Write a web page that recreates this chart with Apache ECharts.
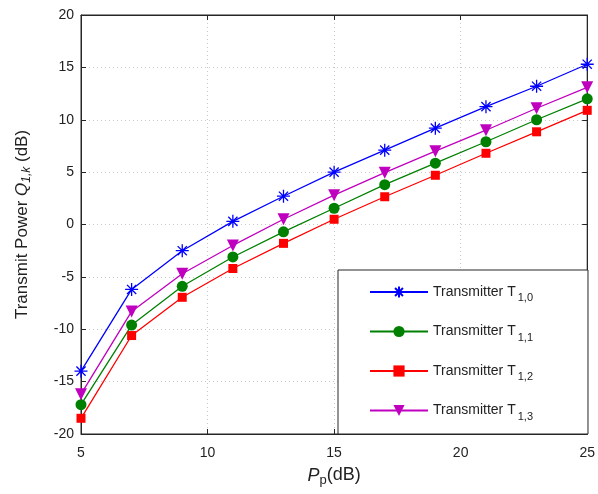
<!DOCTYPE html>
<html>
<head>
<meta charset="utf-8">
<script src="https://cdn.jsdelivr.net/npm/echarts@6/dist/echarts.min.js"></script>
<style>
  html, body { margin: 0; padding: 0; background: #fff; }
  #chart { width: 598px; height: 494px; }
</style>
</head>
<body>
<div id="chart"></div>
<script>
// Primary transmit power P_p (dB)
const pp = [5, 7, 9, 11, 13, 15, 17, 19, 21, 23, 25];

// Transmit power Q_{1,k} (dB) for each transmitter
const t10 = [-14.0, -6.2, -2.5, 0.3, 2.7, 5.0, 7.1, 9.2, 11.25, 13.2, 15.3];
const t11 = [-17.2, -9.6, -5.9, -3.1, -0.7, 1.55, 3.8, 5.85, 7.9, 10.0, 12.0];
const t12 = [-18.5, -10.6, -6.95, -4.2, -1.8, 0.5, 2.65, 4.7, 6.8, 8.85, 10.9];
const t13 = [-16.2, -8.3, -4.7, -2.0, 0.5, 2.8, 4.95, 7.0, 9.0, 11.1, 13.1];

const subs = ['1,0', '1,1', '1,2', '1,3'];
const names = subs.map(s => 'Transmitter T' + s);

const font = 'Liberation Sans, Arial, sans-serif';
const asterisk = 'path://M0,-10L0,10M-10,0L10,0M-7.07,-7.07L7.07,7.07M-7.07,7.07L7.07,-7.07';

function pairs(ys) { return pp.map((x, i) => [x, ys[i]]); }

function series(name, ys, color, symbol, size, extra) {
  return Object.assign({
    name: name,
    type: 'line',
    data: pairs(ys),
    symbol: symbol,
    symbolSize: size,
    lineStyle: { color: color, width: 1.3 },
    itemStyle: { color: color, borderColor: color, borderWidth: 0 },
    emphasis: { disabled: true },
    z: 3
  }, extra || {});
}

const gridLine = { show: true, lineStyle: { color: '#c8c8c8', type: [1, 3], width: 1 } };
const frameLine = { show: true, onZero: false, lineStyle: { color: '#262626' } };
const tick = { show: true, inside: true, length: 5, lineStyle: { color: '#262626' } };

const chart = echarts.init(document.getElementById('chart'), null, { renderer: 'canvas' });
chart.setOption({
  animation: false,
  backgroundColor: '#fff',
  grid: { left: 81, right: 9, top: 15, bottom: 60, show: true, borderColor: '#262626', borderWidth: 1, backgroundColor: '#fff' },
  xAxis: [{
    type: 'value', min: 5, max: 25, interval: 5,
    axisLine: frameLine,
    axisTick: tick,
    axisLabel: { color: '#222', fontSize: 14, fontFamily: font, margin: 12 },
    splitLine: gridLine,
    name: '{i|P}{s|p}(dB)',
    nameLocation: 'middle',
    nameGap: 30,
    nameTextStyle: {
      fontFamily: font, color: '#222', fontSize: 18,
      rich: {
        i: { fontStyle: 'italic', fontSize: 18, fontFamily: font, color: '#222' },
        s: { fontSize: 13, fontFamily: font, color: '#222', padding: [10, 0, 0, 0] }
      }
    }
  }, {
    type: 'value', position: 'top', min: 5, max: 25, interval: 5,
    axisLine: frameLine,
    axisTick: tick,
    axisLabel: { show: false }, splitLine: { show: false }
  }],
  yAxis: [{
    type: 'value', min: -20, max: 20, interval: 5,
    axisLine: frameLine,
    axisTick: tick,
    axisLabel: { color: '#222', fontSize: 14, fontFamily: font, margin: 7 },
    splitLine: gridLine,
    name: 'Transmit Power {i|Q}{s|1,k} (dB)',
    nameLocation: 'middle',
    nameGap: 48,
    nameTextStyle: {
      fontFamily: font, color: '#222', fontSize: 17,
      rich: {
        i: { fontStyle: 'italic', fontSize: 17, fontFamily: font, color: '#222' },
        s: { fontStyle: 'italic', fontSize: 12, fontFamily: font, color: '#222', padding: [9, 0, 0, 0] }
      }
    }
  }, {
    type: 'value', position: 'right', min: -20, max: 20, interval: 5,
    axisLine: frameLine,
    axisTick: tick,
    axisLabel: { show: false }, splitLine: { show: false }
  }],
  legend: {
    orient: 'vertical',
    left: 338, top: 270,
    padding: [12, 55, 12, 31],
    itemGap: 18,
    itemWidth: 58, itemHeight: 14,
    backgroundColor: '#fff',
    borderColor: '#262626', borderWidth: 1,
    data: names,
    formatter: function (n) { return n.replace(/T(\d,\d)$/, 'T{s|$1}'); },
    textStyle: {
      fontFamily: font, fontSize: 14, color: '#222', lineHeight: 20,
      rich: { s: { fontFamily: font, fontSize: 11, color: '#222', padding: [12, 0, 0, 2] } }
    }
  },
  series: [
    series(names[0], t10, '#0000ff', asterisk, 13, { itemStyle: { color: '#0000ff', borderColor: '#0000ff', borderWidth: 1.3 } }),
    series(names[1], t11, '#008000', 'circle', 11),
    series(names[2], t12, '#ff0000', 'rect', 9),
    series(names[3], t13, '#bf00bf', 'triangle', 12, { symbolRotate: 180 })
  ]
});
</script>
</body>
</html>
